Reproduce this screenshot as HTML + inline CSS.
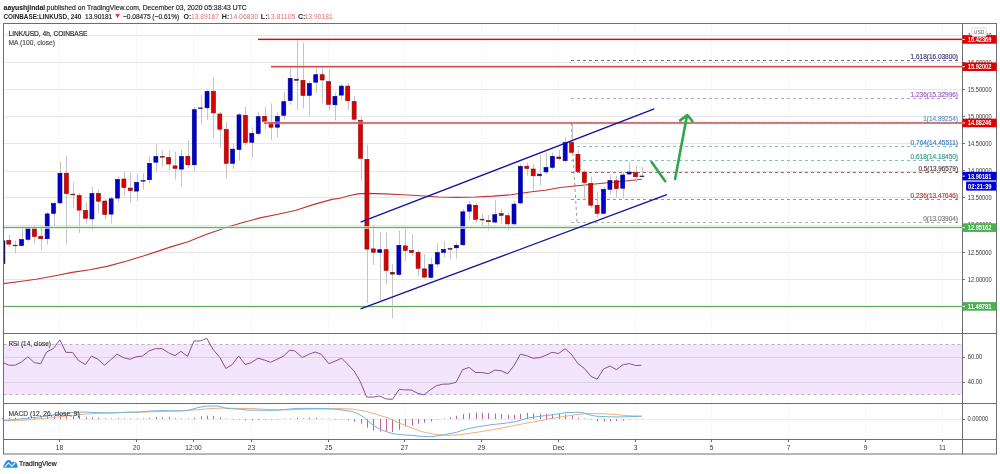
<!DOCTYPE html>
<html><head><meta charset="utf-8"><title>LINK/USD 4h chart</title>
<style>
html,body{margin:0;padding:0;background:#ffffff;}
body{width:1000px;height:474px;overflow:hidden;}
svg{display:block;font-family:"Liberation Sans",sans-serif;}
</style></head><body>
<svg width="1000" height="474" viewBox="0 0 1000 474" shape-rendering="auto">
<defs><clipPath id="mainclip"><rect x="4" y="24" width="958.5" height="309.5"/></clipPath></defs>
<rect x="0" y="0" width="1000" height="474" fill="#ffffff"/>
<line x1="3.50" y1="35.50" x2="962.50" y2="35.50" stroke="#e6e6e6" stroke-width="1" />
<line x1="3.50" y1="62.50" x2="962.50" y2="62.50" stroke="#e6e6e6" stroke-width="1" />
<line x1="3.50" y1="89.50" x2="962.50" y2="89.50" stroke="#e6e6e6" stroke-width="1" />
<line x1="3.50" y1="116.50" x2="962.50" y2="116.50" stroke="#e6e6e6" stroke-width="1" />
<line x1="3.50" y1="143.50" x2="962.50" y2="143.50" stroke="#e6e6e6" stroke-width="1" />
<line x1="3.50" y1="171.50" x2="962.50" y2="171.50" stroke="#e6e6e6" stroke-width="1" />
<line x1="3.50" y1="197.50" x2="962.50" y2="197.50" stroke="#e6e6e6" stroke-width="1" />
<line x1="3.50" y1="225.50" x2="962.50" y2="225.50" stroke="#e6e6e6" stroke-width="1" />
<line x1="3.50" y1="252.50" x2="962.50" y2="252.50" stroke="#e6e6e6" stroke-width="1" />
<line x1="3.50" y1="279.50" x2="962.50" y2="279.50" stroke="#e6e6e6" stroke-width="1" />
<line x1="3.50" y1="306.50" x2="962.50" y2="306.50" stroke="#e6e6e6" stroke-width="1" />
<line x1="59.50" y1="23.50" x2="59.50" y2="439.50" stroke="#ebebeb" stroke-width="1" stroke-dasharray="1 2"/>
<line x1="136.50" y1="23.50" x2="136.50" y2="439.50" stroke="#ebebeb" stroke-width="1" stroke-dasharray="1 2"/>
<line x1="193.50" y1="23.50" x2="193.50" y2="439.50" stroke="#ebebeb" stroke-width="1" stroke-dasharray="1 2"/>
<line x1="251.50" y1="23.50" x2="251.50" y2="439.50" stroke="#ebebeb" stroke-width="1" stroke-dasharray="1 2"/>
<line x1="328.50" y1="23.50" x2="328.50" y2="439.50" stroke="#ebebeb" stroke-width="1" stroke-dasharray="1 2"/>
<line x1="404.50" y1="23.50" x2="404.50" y2="439.50" stroke="#ebebeb" stroke-width="1" stroke-dasharray="1 2"/>
<line x1="481.50" y1="23.50" x2="481.50" y2="439.50" stroke="#ebebeb" stroke-width="1" stroke-dasharray="1 2"/>
<line x1="558.50" y1="23.50" x2="558.50" y2="439.50" stroke="#ebebeb" stroke-width="1" stroke-dasharray="1 2"/>
<line x1="635.50" y1="23.50" x2="635.50" y2="439.50" stroke="#ebebeb" stroke-width="1" stroke-dasharray="1 2"/>
<line x1="711.50" y1="23.50" x2="711.50" y2="439.50" stroke="#ebebeb" stroke-width="1" stroke-dasharray="1 2"/>
<line x1="788.50" y1="23.50" x2="788.50" y2="439.50" stroke="#ebebeb" stroke-width="1" stroke-dasharray="1 2"/>
<line x1="865.50" y1="23.50" x2="865.50" y2="439.50" stroke="#ebebeb" stroke-width="1" stroke-dasharray="1 2"/>
<line x1="942.50" y1="23.50" x2="942.50" y2="439.50" stroke="#ebebeb" stroke-width="1" stroke-dasharray="1 2"/>
<rect x="3.5" y="344.50" width="959.00" height="49.50" fill="#f3e6fc"/>
<line x1="3.50" y1="344.50" x2="962.50" y2="344.50" stroke="#bcaec4" stroke-width="1" stroke-dasharray="3 3"/>
<line x1="3.50" y1="394.50" x2="962.50" y2="394.50" stroke="#bcaec4" stroke-width="1" stroke-dasharray="3 3"/>
<line x1="3.50" y1="357.50" x2="962.50" y2="357.50" stroke="#dcd0e3" stroke-width="1" />
<line x1="3.50" y1="382.50" x2="962.50" y2="382.50" stroke="#dcd0e3" stroke-width="1" />
<line x1="3.50" y1="419.50" x2="962.50" y2="419.50" stroke="#ececec" stroke-width="1" />
<line x1="571.00" y1="60.50" x2="958.50" y2="60.50" stroke="#6a6aa0" stroke-width="1" stroke-dasharray="3 3"/>
<line x1="571.00" y1="98.50" x2="958.50" y2="98.50" stroke="#c49ae0" stroke-width="1" stroke-dasharray="3 3"/>
<line x1="571.00" y1="122.50" x2="958.50" y2="122.50" stroke="#9cc3e3" stroke-width="1" stroke-dasharray="3 3"/>
<line x1="571.00" y1="146.50" x2="958.50" y2="146.50" stroke="#8fb8d8" stroke-width="1" stroke-dasharray="3 3"/>
<line x1="571.00" y1="160.50" x2="958.50" y2="160.50" stroke="#7cc6b6" stroke-width="1" stroke-dasharray="3 3"/>
<line x1="571.00" y1="172.50" x2="958.50" y2="172.50" stroke="#9a6a6a" stroke-width="1" stroke-dasharray="3 3"/>
<line x1="571.00" y1="199.50" x2="958.50" y2="199.50" stroke="#d27a7a" stroke-width="1" stroke-dasharray="3 3"/>
<line x1="571.00" y1="222.50" x2="958.50" y2="222.50" stroke="#b0b0b0" stroke-width="1" stroke-dasharray="3 3"/>
<line x1="571.20" y1="123.00" x2="577.00" y2="222.50" stroke="#999999" stroke-width="1" stroke-dasharray="3 3"/>
<polyline fill="none" stroke="#c03333" stroke-width="1.15" points="3.6,283.6 18,281.8 36,279.2 54,276 72,272.4 90,269.7 108,266.1 126,261.2 144,255.8 162,249.9 170,247.1 188,241.7 206,234.5 224,228.2 242,222.8 260,217.9 278,214.2 296,210.2 314,204.4 332,199.4 340,198.2 349,195.7 358,193.9 367,193.4 385,193.9 403,194.7 421,195.7 439,197 457,197.4 475,197 493,196.1 511,194.8 530,192 545,190.2 560,187.5 575,186 590,184.5 605,183 620,181.5 635,180 641.8,179.2"/>
<g clip-path="url(#mainclip)">
<line x1="2.50" y1="238.00" x2="2.50" y2="266.00" stroke="#c4c4c4" stroke-width="1" />
<line x1="9.50" y1="234.70" x2="9.50" y2="247.00" stroke="#c4c4c4" stroke-width="1" />
<line x1="15.50" y1="240.60" x2="15.50" y2="253.30" stroke="#c4c4c4" stroke-width="1" />
<line x1="22.50" y1="225.90" x2="22.50" y2="246.50" stroke="#c4c4c4" stroke-width="1" />
<line x1="28.50" y1="226.00" x2="28.50" y2="241.00" stroke="#c4c4c4" stroke-width="1" />
<line x1="34.50" y1="225.40" x2="34.50" y2="243.80" stroke="#c4c4c4" stroke-width="1" />
<line x1="41.50" y1="225.40" x2="41.50" y2="250.00" stroke="#c4c4c4" stroke-width="1" />
<line x1="47.50" y1="212.00" x2="47.50" y2="244.40" stroke="#c4c4c4" stroke-width="1" />
<line x1="54.50" y1="202.00" x2="54.50" y2="226.50" stroke="#c4c4c4" stroke-width="1" />
<line x1="60.50" y1="161.50" x2="60.50" y2="204.00" stroke="#c4c4c4" stroke-width="1" />
<line x1="66.50" y1="155.70" x2="66.50" y2="244.30" stroke="#c4c4c4" stroke-width="1" />
<line x1="73.50" y1="182.50" x2="73.50" y2="208.40" stroke="#c4c4c4" stroke-width="1" />
<line x1="79.50" y1="193.00" x2="79.50" y2="233.20" stroke="#c4c4c4" stroke-width="1" />
<line x1="86.50" y1="202.00" x2="86.50" y2="223.50" stroke="#c4c4c4" stroke-width="1" />
<line x1="92.50" y1="186.80" x2="92.50" y2="229.90" stroke="#c4c4c4" stroke-width="1" />
<line x1="98.50" y1="189.40" x2="98.50" y2="213.40" stroke="#c4c4c4" stroke-width="1" />
<line x1="105.50" y1="199.00" x2="105.50" y2="219.70" stroke="#c4c4c4" stroke-width="1" />
<line x1="111.50" y1="197.00" x2="111.50" y2="223.70" stroke="#c4c4c4" stroke-width="1" />
<line x1="118.50" y1="176.40" x2="118.50" y2="202.30" stroke="#c4c4c4" stroke-width="1" />
<line x1="124.50" y1="171.90" x2="124.50" y2="196.00" stroke="#c4c4c4" stroke-width="1" />
<line x1="130.50" y1="172.70" x2="130.50" y2="202.30" stroke="#c4c4c4" stroke-width="1" />
<line x1="137.50" y1="173.70" x2="137.50" y2="201.00" stroke="#c4c4c4" stroke-width="1" />
<line x1="143.50" y1="173.20" x2="143.50" y2="189.60" stroke="#c4c4c4" stroke-width="1" />
<line x1="149.50" y1="156.00" x2="149.50" y2="183.30" stroke="#c4c4c4" stroke-width="1" />
<line x1="156.50" y1="144.80" x2="156.50" y2="171.90" stroke="#c4c4c4" stroke-width="1" />
<line x1="162.50" y1="150.40" x2="162.50" y2="166.80" stroke="#c4c4c4" stroke-width="1" />
<line x1="169.50" y1="150.40" x2="169.50" y2="170.10" stroke="#c4c4c4" stroke-width="1" />
<line x1="175.50" y1="151.60" x2="175.50" y2="179.50" stroke="#c4c4c4" stroke-width="1" />
<line x1="181.50" y1="150.00" x2="181.50" y2="186.30" stroke="#c4c4c4" stroke-width="1" />
<line x1="188.50" y1="140.30" x2="188.50" y2="168.00" stroke="#c4c4c4" stroke-width="1" />
<line x1="194.50" y1="107.00" x2="194.50" y2="171.40" stroke="#c4c4c4" stroke-width="1" />
<line x1="201.50" y1="94.70" x2="201.50" y2="124.60" stroke="#c4c4c4" stroke-width="1" />
<line x1="207.50" y1="90.00" x2="207.50" y2="120.00" stroke="#c4c4c4" stroke-width="1" />
<line x1="213.50" y1="77.70" x2="213.50" y2="138.20" stroke="#c4c4c4" stroke-width="1" />
<line x1="220.50" y1="112.00" x2="220.50" y2="148.00" stroke="#c4c4c4" stroke-width="1" />
<line x1="226.50" y1="121.70" x2="226.50" y2="178.70" stroke="#c4c4c4" stroke-width="1" />
<line x1="233.50" y1="143.20" x2="233.50" y2="169.20" stroke="#c4c4c4" stroke-width="1" />
<line x1="239.50" y1="113.00" x2="239.50" y2="160.50" stroke="#c4c4c4" stroke-width="1" />
<line x1="245.50" y1="106.70" x2="245.50" y2="145.20" stroke="#c4c4c4" stroke-width="1" />
<line x1="252.50" y1="127.30" x2="252.50" y2="157.50" stroke="#c4c4c4" stroke-width="1" />
<line x1="258.50" y1="111.50" x2="258.50" y2="135.00" stroke="#c4c4c4" stroke-width="1" />
<line x1="265.50" y1="107.20" x2="265.50" y2="129.20" stroke="#c4c4c4" stroke-width="1" />
<line x1="271.50" y1="103.40" x2="271.50" y2="140.10" stroke="#c4c4c4" stroke-width="1" />
<line x1="277.50" y1="112.30" x2="277.50" y2="137.60" stroke="#c4c4c4" stroke-width="1" />
<line x1="284.50" y1="92.00" x2="284.50" y2="119.90" stroke="#c4c4c4" stroke-width="1" />
<line x1="290.50" y1="67.50" x2="290.50" y2="104.70" stroke="#c4c4c4" stroke-width="1" />
<line x1="297.50" y1="40.10" x2="297.50" y2="109.70" stroke="#c4c4c4" stroke-width="1" />
<line x1="303.50" y1="42.70" x2="303.50" y2="108.50" stroke="#c4c4c4" stroke-width="1" />
<line x1="309.50" y1="81.00" x2="309.50" y2="116.10" stroke="#c4c4c4" stroke-width="1" />
<line x1="316.50" y1="67.60" x2="316.50" y2="93.10" stroke="#c4c4c4" stroke-width="1" />
<line x1="322.50" y1="68.10" x2="322.50" y2="103.00" stroke="#c4c4c4" stroke-width="1" />
<line x1="329.50" y1="69.60" x2="329.50" y2="110.60" stroke="#c4c4c4" stroke-width="1" />
<line x1="335.50" y1="92.90" x2="335.50" y2="120.30" stroke="#c4c4c4" stroke-width="1" />
<line x1="341.50" y1="84.00" x2="341.50" y2="100.50" stroke="#c4c4c4" stroke-width="1" />
<line x1="348.50" y1="82.80" x2="348.50" y2="110.10" stroke="#c4c4c4" stroke-width="1" />
<line x1="354.50" y1="96.00" x2="354.50" y2="120.80" stroke="#c4c4c4" stroke-width="1" />
<line x1="361.50" y1="117.00" x2="361.50" y2="180.80" stroke="#c4c4c4" stroke-width="1" />
<line x1="367.50" y1="144.70" x2="367.50" y2="303.20" stroke="#c4c4c4" stroke-width="1" />
<line x1="373.50" y1="225.00" x2="373.50" y2="265.00" stroke="#c4c4c4" stroke-width="1" />
<line x1="380.50" y1="232.60" x2="380.50" y2="300.00" stroke="#c4c4c4" stroke-width="1" />
<line x1="386.50" y1="232.60" x2="386.50" y2="284.70" stroke="#c4c4c4" stroke-width="1" />
<line x1="392.50" y1="264.00" x2="392.50" y2="318.00" stroke="#c4c4c4" stroke-width="1" />
<line x1="399.50" y1="230.60" x2="399.50" y2="276.00" stroke="#c4c4c4" stroke-width="1" />
<line x1="405.50" y1="228.30" x2="405.50" y2="261.10" stroke="#c4c4c4" stroke-width="1" />
<line x1="412.50" y1="233.80" x2="412.50" y2="255.90" stroke="#c4c4c4" stroke-width="1" />
<line x1="418.50" y1="250.00" x2="418.50" y2="276.40" stroke="#c4c4c4" stroke-width="1" />
<line x1="424.50" y1="254.40" x2="424.50" y2="278.00" stroke="#c4c4c4" stroke-width="1" />
<line x1="431.50" y1="258.00" x2="431.50" y2="278.50" stroke="#c4c4c4" stroke-width="1" />
<line x1="437.50" y1="243.20" x2="437.50" y2="267.50" stroke="#c4c4c4" stroke-width="1" />
<line x1="444.50" y1="241.10" x2="444.50" y2="257.40" stroke="#c4c4c4" stroke-width="1" />
<line x1="450.50" y1="247.50" x2="450.50" y2="259.00" stroke="#c4c4c4" stroke-width="1" />
<line x1="456.50" y1="242.20" x2="456.50" y2="258.60" stroke="#c4c4c4" stroke-width="1" />
<line x1="463.50" y1="209.00" x2="463.50" y2="246.00" stroke="#c4c4c4" stroke-width="1" />
<line x1="469.50" y1="201.00" x2="469.50" y2="219.60" stroke="#c4c4c4" stroke-width="1" />
<line x1="476.50" y1="203.00" x2="476.50" y2="223.10" stroke="#c4c4c4" stroke-width="1" />
<line x1="482.50" y1="213.80" x2="482.50" y2="225.40" stroke="#c4c4c4" stroke-width="1" />
<line x1="488.50" y1="215.00" x2="488.50" y2="230.00" stroke="#c4c4c4" stroke-width="1" />
<line x1="495.50" y1="199.90" x2="495.50" y2="223.10" stroke="#c4c4c4" stroke-width="1" />
<line x1="501.50" y1="209.20" x2="501.50" y2="223.80" stroke="#c4c4c4" stroke-width="1" />
<line x1="508.50" y1="212.60" x2="508.50" y2="230.00" stroke="#c4c4c4" stroke-width="1" />
<line x1="514.50" y1="201.00" x2="514.50" y2="225.00" stroke="#c4c4c4" stroke-width="1" />
<line x1="520.50" y1="164.00" x2="520.50" y2="204.00" stroke="#c4c4c4" stroke-width="1" />
<line x1="527.50" y1="162.90" x2="527.50" y2="175.70" stroke="#c4c4c4" stroke-width="1" />
<line x1="533.50" y1="164.10" x2="533.50" y2="190.80" stroke="#c4c4c4" stroke-width="1" />
<line x1="540.50" y1="154.80" x2="540.50" y2="185.40" stroke="#c4c4c4" stroke-width="1" />
<line x1="546.50" y1="152.50" x2="546.50" y2="174.00" stroke="#c4c4c4" stroke-width="1" />
<line x1="552.50" y1="152.50" x2="552.50" y2="169.90" stroke="#c4c4c4" stroke-width="1" />
<line x1="559.50" y1="150.20" x2="559.50" y2="160.60" stroke="#c4c4c4" stroke-width="1" />
<line x1="565.50" y1="137.40" x2="565.50" y2="162.00" stroke="#c4c4c4" stroke-width="1" />
<line x1="572.50" y1="123.00" x2="572.50" y2="153.00" stroke="#c4c4c4" stroke-width="1" />
<line x1="578.50" y1="149.80" x2="578.50" y2="173.00" stroke="#c4c4c4" stroke-width="1" />
<line x1="584.50" y1="170.00" x2="584.50" y2="199.70" stroke="#c4c4c4" stroke-width="1" />
<line x1="591.50" y1="176.50" x2="591.50" y2="207.80" stroke="#c4c4c4" stroke-width="1" />
<line x1="597.50" y1="191.60" x2="597.50" y2="218.20" stroke="#c4c4c4" stroke-width="1" />
<line x1="604.50" y1="187.00" x2="604.50" y2="214.00" stroke="#c4c4c4" stroke-width="1" />
<line x1="610.50" y1="174.50" x2="610.50" y2="194.30" stroke="#c4c4c4" stroke-width="1" />
<line x1="616.50" y1="176.00" x2="616.50" y2="197.40" stroke="#c4c4c4" stroke-width="1" />
<line x1="623.50" y1="172.00" x2="623.50" y2="198.40" stroke="#c4c4c4" stroke-width="1" />
<line x1="629.50" y1="162.30" x2="629.50" y2="175.00" stroke="#c4c4c4" stroke-width="1" />
<line x1="636.50" y1="165.60" x2="636.50" y2="182.30" stroke="#c4c4c4" stroke-width="1" />
<line x1="642.50" y1="167.10" x2="642.50" y2="177.50" stroke="#c4c4c4" stroke-width="1" />
<rect x="0.40" y="240.90" width="4.00" height="22.60" fill="#0000cc" stroke="#00007a" stroke-width="0.6"/>
<rect x="6.80" y="240.50" width="4.00" height="3.60" fill="#dd0000" stroke="#8a0000" stroke-width="0.6"/>
<rect x="13.19" y="245.20" width="4.00" height="0.60" fill="#701a1a" stroke="#701a1a" stroke-width="0.6"/>
<rect x="19.59" y="239.50" width="4.00" height="6.10" fill="#0000cc" stroke="#00007a" stroke-width="0.6"/>
<rect x="25.98" y="228.30" width="4.00" height="11.00" fill="#0000cc" stroke="#00007a" stroke-width="0.6"/>
<rect x="32.38" y="228.30" width="4.00" height="8.20" fill="#dd0000" stroke="#8a0000" stroke-width="0.6"/>
<rect x="38.77" y="236.30" width="4.00" height="2.40" fill="#dd0000" stroke="#8a0000" stroke-width="0.6"/>
<rect x="45.16" y="213.90" width="4.00" height="24.80" fill="#0000cc" stroke="#00007a" stroke-width="0.6"/>
<rect x="51.56" y="203.50" width="4.00" height="9.90" fill="#0000cc" stroke="#00007a" stroke-width="0.6"/>
<rect x="57.96" y="173.20" width="4.00" height="29.70" fill="#0000cc" stroke="#00007a" stroke-width="0.6"/>
<rect x="64.35" y="173.20" width="4.00" height="20.40" fill="#dd0000" stroke="#8a0000" stroke-width="0.6"/>
<rect x="70.75" y="194.20" width="4.00" height="0.60" fill="#701a1a" stroke="#701a1a" stroke-width="0.6"/>
<rect x="77.14" y="195.50" width="4.00" height="14.60" fill="#dd0000" stroke="#8a0000" stroke-width="0.6"/>
<rect x="83.53" y="210.40" width="4.00" height="7.80" fill="#dd0000" stroke="#8a0000" stroke-width="0.6"/>
<rect x="89.93" y="193.50" width="4.00" height="25.40" fill="#0000cc" stroke="#00007a" stroke-width="0.6"/>
<rect x="96.33" y="193.50" width="4.00" height="7.70" fill="#dd0000" stroke="#8a0000" stroke-width="0.6"/>
<rect x="102.72" y="201.10" width="4.00" height="13.30" fill="#dd0000" stroke="#8a0000" stroke-width="0.6"/>
<rect x="109.12" y="198.80" width="4.00" height="15.30" fill="#0000cc" stroke="#00007a" stroke-width="0.6"/>
<rect x="115.51" y="179.40" width="4.00" height="18.70" fill="#0000cc" stroke="#00007a" stroke-width="0.6"/>
<rect x="121.90" y="179.00" width="4.00" height="8.50" fill="#dd0000" stroke="#8a0000" stroke-width="0.6"/>
<rect x="128.30" y="188.10" width="4.00" height="2.50" fill="#dd0000" stroke="#8a0000" stroke-width="0.6"/>
<rect x="134.69" y="182.30" width="4.00" height="8.80" fill="#0000cc" stroke="#00007a" stroke-width="0.6"/>
<rect x="141.09" y="180.60" width="4.00" height="0.60" fill="#1a1a70" stroke="#1a1a70" stroke-width="0.6"/>
<rect x="147.49" y="163.30" width="4.00" height="16.40" fill="#0000cc" stroke="#00007a" stroke-width="0.6"/>
<rect x="153.88" y="156.50" width="4.00" height="5.70" fill="#0000cc" stroke="#00007a" stroke-width="0.6"/>
<rect x="160.28" y="156.50" width="4.00" height="0.70" fill="#701a1a" stroke="#701a1a" stroke-width="0.6"/>
<rect x="166.67" y="157.50" width="4.00" height="6.50" fill="#dd0000" stroke="#8a0000" stroke-width="0.6"/>
<rect x="173.06" y="165.90" width="4.00" height="2.40" fill="#dd0000" stroke="#8a0000" stroke-width="0.6"/>
<rect x="179.46" y="156.50" width="4.00" height="12.60" fill="#0000cc" stroke="#00007a" stroke-width="0.6"/>
<rect x="185.86" y="156.20" width="4.00" height="8.60" fill="#dd0000" stroke="#8a0000" stroke-width="0.6"/>
<rect x="192.25" y="109.70" width="4.00" height="55.10" fill="#0000cc" stroke="#00007a" stroke-width="0.6"/>
<rect x="198.64" y="107.90" width="4.00" height="0.70" fill="#1a1a70" stroke="#1a1a70" stroke-width="0.6"/>
<rect x="205.04" y="91.40" width="4.00" height="16.40" fill="#0000cc" stroke="#00007a" stroke-width="0.6"/>
<rect x="211.44" y="91.40" width="4.00" height="21.50" fill="#dd0000" stroke="#8a0000" stroke-width="0.6"/>
<rect x="217.83" y="114.00" width="4.00" height="15.20" fill="#dd0000" stroke="#8a0000" stroke-width="0.6"/>
<rect x="224.23" y="129.60" width="4.00" height="33.70" fill="#dd0000" stroke="#8a0000" stroke-width="0.6"/>
<rect x="230.62" y="149.10" width="4.00" height="14.20" fill="#0000cc" stroke="#00007a" stroke-width="0.6"/>
<rect x="237.01" y="114.90" width="4.00" height="34.60" fill="#0000cc" stroke="#00007a" stroke-width="0.6"/>
<rect x="243.41" y="115.30" width="4.00" height="27.10" fill="#dd0000" stroke="#8a0000" stroke-width="0.6"/>
<rect x="249.81" y="133.30" width="4.00" height="9.00" fill="#0000cc" stroke="#00007a" stroke-width="0.6"/>
<rect x="256.20" y="116.70" width="4.00" height="16.80" fill="#0000cc" stroke="#00007a" stroke-width="0.6"/>
<rect x="262.60" y="116.40" width="4.00" height="4.90" fill="#dd0000" stroke="#8a0000" stroke-width="0.6"/>
<rect x="268.99" y="122.70" width="4.00" height="4.50" fill="#dd0000" stroke="#8a0000" stroke-width="0.6"/>
<rect x="275.38" y="116.40" width="4.00" height="10.80" fill="#0000cc" stroke="#00007a" stroke-width="0.6"/>
<rect x="281.78" y="101.70" width="4.00" height="13.60" fill="#0000cc" stroke="#00007a" stroke-width="0.6"/>
<rect x="288.18" y="78.40" width="4.00" height="22.20" fill="#0000cc" stroke="#00007a" stroke-width="0.6"/>
<rect x="294.57" y="79.20" width="4.00" height="1.10" fill="#701a1a" stroke="#701a1a" stroke-width="0.6"/>
<rect x="300.96" y="80.40" width="4.00" height="15.10" fill="#dd0000" stroke="#8a0000" stroke-width="0.6"/>
<rect x="307.36" y="83.50" width="4.00" height="11.80" fill="#0000cc" stroke="#00007a" stroke-width="0.6"/>
<rect x="313.75" y="74.70" width="4.00" height="7.50" fill="#0000cc" stroke="#00007a" stroke-width="0.6"/>
<rect x="320.15" y="74.70" width="4.00" height="5.30" fill="#dd0000" stroke="#8a0000" stroke-width="0.6"/>
<rect x="326.55" y="81.60" width="4.00" height="22.70" fill="#dd0000" stroke="#8a0000" stroke-width="0.6"/>
<rect x="332.94" y="96.30" width="4.00" height="8.50" fill="#0000cc" stroke="#00007a" stroke-width="0.6"/>
<rect x="339.33" y="86.10" width="4.00" height="9.00" fill="#0000cc" stroke="#00007a" stroke-width="0.6"/>
<rect x="345.73" y="86.10" width="4.00" height="14.60" fill="#dd0000" stroke="#8a0000" stroke-width="0.6"/>
<rect x="352.12" y="101.60" width="4.00" height="17.60" fill="#dd0000" stroke="#8a0000" stroke-width="0.6"/>
<rect x="358.52" y="120.30" width="4.00" height="38.00" fill="#dd0000" stroke="#8a0000" stroke-width="0.6"/>
<rect x="364.92" y="159.30" width="4.00" height="89.80" fill="#dd0000" stroke="#8a0000" stroke-width="0.6"/>
<rect x="371.31" y="248.90" width="4.00" height="3.30" fill="#dd0000" stroke="#8a0000" stroke-width="0.6"/>
<rect x="377.70" y="249.70" width="4.00" height="2.70" fill="#0000cc" stroke="#00007a" stroke-width="0.6"/>
<rect x="384.10" y="249.70" width="4.00" height="20.70" fill="#dd0000" stroke="#8a0000" stroke-width="0.6"/>
<rect x="390.50" y="272.30" width="4.00" height="1.80" fill="#701a1a" stroke="#701a1a" stroke-width="0.6"/>
<rect x="396.89" y="245.30" width="4.00" height="29.10" fill="#0000cc" stroke="#00007a" stroke-width="0.6"/>
<rect x="403.28" y="245.90" width="4.00" height="4.40" fill="#dd0000" stroke="#8a0000" stroke-width="0.6"/>
<rect x="409.68" y="250.50" width="4.00" height="1.90" fill="#dd0000" stroke="#8a0000" stroke-width="0.6"/>
<rect x="416.07" y="252.40" width="4.00" height="15.90" fill="#dd0000" stroke="#8a0000" stroke-width="0.6"/>
<rect x="422.47" y="268.90" width="4.00" height="8.20" fill="#dd0000" stroke="#8a0000" stroke-width="0.6"/>
<rect x="428.87" y="264.60" width="4.00" height="12.70" fill="#0000cc" stroke="#00007a" stroke-width="0.6"/>
<rect x="435.26" y="252.60" width="4.00" height="11.40" fill="#0000cc" stroke="#00007a" stroke-width="0.6"/>
<rect x="441.65" y="249.50" width="4.00" height="2.90" fill="#0000cc" stroke="#00007a" stroke-width="0.6"/>
<rect x="448.05" y="248.40" width="4.00" height="0.80" fill="#701a1a" stroke="#701a1a" stroke-width="0.6"/>
<rect x="454.44" y="245.30" width="4.00" height="2.50" fill="#0000cc" stroke="#00007a" stroke-width="0.6"/>
<rect x="460.84" y="211.80" width="4.00" height="33.00" fill="#0000cc" stroke="#00007a" stroke-width="0.6"/>
<rect x="467.24" y="204.80" width="4.00" height="6.40" fill="#0000cc" stroke="#00007a" stroke-width="0.6"/>
<rect x="473.63" y="205.30" width="4.00" height="14.00" fill="#dd0000" stroke="#8a0000" stroke-width="0.6"/>
<rect x="480.02" y="219.20" width="4.00" height="0.80" fill="#701a1a" stroke="#701a1a" stroke-width="0.6"/>
<rect x="486.42" y="220.60" width="4.00" height="1.10" fill="#701a1a" stroke="#701a1a" stroke-width="0.6"/>
<rect x="492.81" y="214.60" width="4.00" height="7.50" fill="#0000cc" stroke="#00007a" stroke-width="0.6"/>
<rect x="499.21" y="213.60" width="4.00" height="1.80" fill="#701a1a" stroke="#701a1a" stroke-width="0.6"/>
<rect x="505.61" y="215.70" width="4.00" height="8.20" fill="#dd0000" stroke="#8a0000" stroke-width="0.6"/>
<rect x="512.00" y="204.10" width="4.00" height="19.80" fill="#0000cc" stroke="#00007a" stroke-width="0.6"/>
<rect x="518.39" y="166.30" width="4.00" height="36.70" fill="#0000cc" stroke="#00007a" stroke-width="0.6"/>
<rect x="524.79" y="166.20" width="4.00" height="2.20" fill="#dd0000" stroke="#8a0000" stroke-width="0.6"/>
<rect x="531.18" y="169.00" width="4.00" height="6.80" fill="#dd0000" stroke="#8a0000" stroke-width="0.6"/>
<rect x="537.58" y="174.10" width="4.00" height="1.70" fill="#1a1a70" stroke="#1a1a70" stroke-width="0.6"/>
<rect x="543.98" y="167.40" width="4.00" height="4.50" fill="#0000cc" stroke="#00007a" stroke-width="0.6"/>
<rect x="550.37" y="156.30" width="4.00" height="11.00" fill="#0000cc" stroke="#00007a" stroke-width="0.6"/>
<rect x="556.76" y="157.00" width="4.00" height="1.70" fill="#701a1a" stroke="#701a1a" stroke-width="0.6"/>
<rect x="563.16" y="142.50" width="4.00" height="18.20" fill="#0000cc" stroke="#00007a" stroke-width="0.6"/>
<rect x="569.55" y="142.50" width="4.00" height="9.80" fill="#dd0000" stroke="#8a0000" stroke-width="0.6"/>
<rect x="575.95" y="154.30" width="4.00" height="17.20" fill="#dd0000" stroke="#8a0000" stroke-width="0.6"/>
<rect x="582.35" y="172.10" width="4.00" height="10.30" fill="#dd0000" stroke="#8a0000" stroke-width="0.6"/>
<rect x="588.74" y="183.30" width="4.00" height="21.90" fill="#dd0000" stroke="#8a0000" stroke-width="0.6"/>
<rect x="595.13" y="205.30" width="4.00" height="8.00" fill="#dd0000" stroke="#8a0000" stroke-width="0.6"/>
<rect x="601.53" y="189.30" width="4.00" height="24.00" fill="#0000cc" stroke="#00007a" stroke-width="0.6"/>
<rect x="607.92" y="180.50" width="4.00" height="8.80" fill="#0000cc" stroke="#00007a" stroke-width="0.6"/>
<rect x="614.32" y="180.70" width="4.00" height="7.90" fill="#dd0000" stroke="#8a0000" stroke-width="0.6"/>
<rect x="620.72" y="175.00" width="4.00" height="13.20" fill="#0000cc" stroke="#00007a" stroke-width="0.6"/>
<rect x="627.11" y="172.10" width="4.00" height="1.90" fill="#0000cc" stroke="#00007a" stroke-width="0.6"/>
<rect x="633.50" y="172.70" width="4.00" height="4.00" fill="#dd0000" stroke="#8a0000" stroke-width="0.6"/>
<rect x="639.90" y="176.00" width="4.00" height="0.60" fill="#111133" stroke="#111133" stroke-width="0.6"/>
</g>
<rect x="4.00" y="240.50" width="1.20" height="23.30" fill="#101060" />
<line x1="258.00" y1="39.44" x2="962.50" y2="39.44" stroke="#ffcccc" stroke-width="2.8" stroke-opacity="0.7"/>
<line x1="258.00" y1="39.44" x2="962.50" y2="39.44" stroke="#b01a1e" stroke-width="1.15" />
<line x1="271.00" y1="66.73" x2="962.50" y2="66.73" stroke="#ffcccc" stroke-width="2.8" stroke-opacity="0.7"/>
<line x1="271.00" y1="66.73" x2="962.50" y2="66.73" stroke="#b01a1e" stroke-width="1.15" />
<line x1="264.00" y1="122.97" x2="962.50" y2="122.97" stroke="#ffcccc" stroke-width="2.8" stroke-opacity="0.7"/>
<line x1="264.00" y1="122.97" x2="962.50" y2="122.97" stroke="#b01a1e" stroke-width="1.15" />
<line x1="3.50" y1="227.50" x2="962.50" y2="227.50" stroke="#d8f2d8" stroke-width="2.8" stroke-opacity="0.7"/>
<line x1="3.50" y1="227.50" x2="962.50" y2="227.50" stroke="#62ad62" stroke-width="1.0" />
<line x1="3.50" y1="306.50" x2="962.50" y2="306.50" stroke="#d8f2d8" stroke-width="2.8" stroke-opacity="0.7"/>
<line x1="3.50" y1="306.50" x2="962.50" y2="306.50" stroke="#62ad62" stroke-width="1.0" />
<line x1="360.60" y1="222.10" x2="654.20" y2="108.90" stroke="#12129e" stroke-width="1.35" />
<line x1="360.60" y1="308.90" x2="666.80" y2="194.60" stroke="#12129e" stroke-width="1.35" />
<g stroke="#2fa64c" stroke-width="2.6" fill="none" stroke-linecap="round" stroke-linejoin="round">
<line x1="651.6" y1="162" x2="665.2" y2="181.2"/>
<line x1="675.1" y1="178.9" x2="686.9" y2="116"/>
<polyline points="680.2,120.4 687.3,115.0 692.4,121.2"/>
</g>
<polyline fill="none" stroke="#8a4f94" stroke-width="1" points="4,363 8.8,365.2 15.4,365.2 21.6,361.9 27.9,356.8 34.3,362.6 40.7,363.7 46.6,352 53.2,348.7 59.8,339.9 66,352.4 72.6,352.4 78.8,360.8 85.4,364.5 91.5,356 97.9,359.3 104.5,365.2 110.7,359.7 117,354.2 123.2,357.5 129.8,359.3 136,356.8 142.6,356 149,350.9 155.3,348.7 162.2,348.7 168.3,352.7 175,355.7 181,351.3 187.5,356.4 194,341 200.2,341 206.8,338.4 213,349.4 219.9,357.5 225.8,368.5 232,364.8 238.6,356 245.2,364.5 251.4,362.6 258,358.2 264.6,360.1 270.5,362.3 277.1,359.3 283.7,356 289.6,350.2 294.7,350.9 302.4,357.5 309,354.2 315.2,352 321.1,354.2 328.8,363.7 335,361.2 341.6,358.2 347.5,364.1 354.1,371.1 360.3,381.7 366.7,397.1 373.3,397.1 379.4,396 386,398.9 392.6,399.3 399.2,389.4 404.7,389.8 411.3,390 417.9,393.4 423.9,394.9 430.1,390 436.3,385.7 442.8,384.2 449.3,384 456,382.3 462.7,369.6 469.2,367.4 475.7,372.5 481.9,372.5 488.4,373.7 494.9,370.1 501.1,370.8 507.6,373.7 514.1,365.5 520.3,354.2 526.8,355.7 533.3,358.3 540,357.6 546,355.2 552,352.3 558.7,353.5 565,348.7 571.2,354 577.9,363.6 584.4,368.4 590.9,376.3 597.1,379.2 603.6,368.9 610.1,366 616.3,369.6 622.8,364.8 629.3,363.6 635.5,365.5 641.3,365.3"/>
<g stroke="#c0609a" stroke-width="1">
<line x1="2.5" y1="419.0" x2="2.5" y2="418.0"/>
<line x1="9.5" y1="419.0" x2="9.5" y2="417.8"/>
<line x1="15.5" y1="419.0" x2="15.5" y2="417.8"/>
<line x1="22.5" y1="419.0" x2="22.5" y2="417.6"/>
<line x1="28.5" y1="419.0" x2="28.5" y2="417.2"/>
<line x1="34.5" y1="419.0" x2="34.5" y2="417.2"/>
<line x1="41.5" y1="419.0" x2="41.5" y2="416.6"/>
<line x1="47.5" y1="419.0" x2="47.5" y2="416.0"/>
<line x1="54.5" y1="419.0" x2="54.5" y2="416.0"/>
<line x1="60.5" y1="419.0" x2="60.5" y2="415.4"/>
<line x1="66.5" y1="419.0" x2="66.5" y2="415.2"/>
<line x1="73.5" y1="419.0" x2="73.5" y2="415.4"/>
<line x1="79.5" y1="419.0" x2="79.5" y2="416.0"/>
<line x1="86.5" y1="419.0" x2="86.5" y2="417.2"/>
<line x1="92.5" y1="419.0" x2="92.5" y2="417.2"/>
<line x1="98.5" y1="419.0" x2="98.5" y2="417.8"/>
<line x1="105.5" y1="419.0" x2="105.5" y2="418.4"/>
<line x1="111.5" y1="419.0" x2="111.5" y2="418.4"/>
<line x1="118.5" y1="419.0" x2="118.5" y2="418.2"/>
<line x1="124.5" y1="419.0" x2="124.5" y2="418.4"/>
<line x1="130.5" y1="419.0" x2="130.5" y2="418.4"/>
<line x1="137.5" y1="419.0" x2="137.5" y2="418.4"/>
<line x1="143.5" y1="419.0" x2="143.5" y2="418.4"/>
<line x1="149.5" y1="419.0" x2="149.5" y2="418.0"/>
<line x1="156.5" y1="419.0" x2="156.5" y2="417.0"/>
<line x1="162.5" y1="419.0" x2="162.5" y2="417.2"/>
<line x1="169.5" y1="419.0" x2="169.5" y2="417.2"/>
<line x1="175.5" y1="419.0" x2="175.5" y2="418.2"/>
<line x1="181.5" y1="419.0" x2="181.5" y2="418.4"/>
<line x1="188.5" y1="419.0" x2="188.5" y2="418.4"/>
<line x1="194.5" y1="419.0" x2="194.5" y2="417.8"/>
<line x1="201.5" y1="419.0" x2="201.5" y2="416.4"/>
<line x1="207.5" y1="419.0" x2="207.5" y2="415.6"/>
<line x1="213.5" y1="419.0" x2="213.5" y2="415.8"/>
<line x1="220.5" y1="419.0" x2="220.5" y2="417.2"/>
<line x1="226.5" y1="419.0" x2="226.5" y2="418.5"/>
<line x1="233.5" y1="419.0" x2="233.5" y2="419.8"/>
<line x1="239.5" y1="419.0" x2="239.5" y2="419.5"/>
<line x1="245.5" y1="419.0" x2="245.5" y2="420.2"/>
<line x1="252.5" y1="419.0" x2="252.5" y2="420.2"/>
<line x1="258.5" y1="419.0" x2="258.5" y2="420.0"/>
<line x1="265.5" y1="419.0" x2="265.5" y2="419.8"/>
<line x1="271.5" y1="419.0" x2="271.5" y2="419.6"/>
<line x1="277.5" y1="419.0" x2="277.5" y2="419.5"/>
<line x1="284.5" y1="419.0" x2="284.5" y2="418.5"/>
<line x1="290.5" y1="419.0" x2="290.5" y2="418.4"/>
<line x1="297.5" y1="419.0" x2="297.5" y2="417.8"/>
<line x1="303.5" y1="419.0" x2="303.5" y2="418.4"/>
<line x1="309.5" y1="419.0" x2="309.5" y2="417.8"/>
<line x1="316.5" y1="419.0" x2="316.5" y2="417.8"/>
<line x1="322.5" y1="419.0" x2="322.5" y2="418.5"/>
<line x1="329.5" y1="419.0" x2="329.5" y2="418.5"/>
<line x1="335.5" y1="419.0" x2="335.5" y2="419.5"/>
<line x1="341.5" y1="419.0" x2="341.5" y2="419.5"/>
<line x1="348.5" y1="419.0" x2="348.5" y2="420.2"/>
<line x1="354.5" y1="419.0" x2="354.5" y2="421.8"/>
<line x1="361.5" y1="419.0" x2="361.5" y2="423.8"/>
<line x1="367.5" y1="419.0" x2="367.5" y2="427.8"/>
<line x1="373.5" y1="419.0" x2="373.5" y2="430.6"/>
<line x1="380.5" y1="419.0" x2="380.5" y2="431.6"/>
<line x1="386.5" y1="419.0" x2="386.5" y2="431.6"/>
<line x1="392.5" y1="419.0" x2="392.5" y2="432.2"/>
<line x1="399.5" y1="419.0" x2="399.5" y2="429.8"/>
<line x1="405.5" y1="419.0" x2="405.5" y2="426.6"/>
<line x1="412.5" y1="419.0" x2="412.5" y2="425.7"/>
<line x1="418.5" y1="419.0" x2="418.5" y2="423.8"/>
<line x1="424.5" y1="419.0" x2="424.5" y2="422.7"/>
<line x1="431.5" y1="419.0" x2="431.5" y2="421.5"/>
<line x1="437.5" y1="419.0" x2="437.5" y2="419.5"/>
<line x1="444.5" y1="419.0" x2="444.5" y2="418.4"/>
<line x1="450.5" y1="419.0" x2="450.5" y2="417.2"/>
<line x1="456.5" y1="419.0" x2="456.5" y2="415.8"/>
<line x1="463.5" y1="419.0" x2="463.5" y2="414.2"/>
<line x1="469.5" y1="419.0" x2="469.5" y2="413.0"/>
<line x1="476.5" y1="419.0" x2="476.5" y2="412.6"/>
<line x1="482.5" y1="419.0" x2="482.5" y2="412.6"/>
<line x1="488.5" y1="419.0" x2="488.5" y2="413.0"/>
<line x1="495.5" y1="419.0" x2="495.5" y2="413.6"/>
<line x1="501.5" y1="419.0" x2="501.5" y2="414.0"/>
<line x1="508.5" y1="419.0" x2="508.5" y2="414.8"/>
<line x1="514.5" y1="419.0" x2="514.5" y2="414.8"/>
<line x1="520.5" y1="419.0" x2="520.5" y2="413.8"/>
<line x1="527.5" y1="419.0" x2="527.5" y2="413.0"/>
<line x1="533.5" y1="419.0" x2="533.5" y2="413.4"/>
<line x1="540.5" y1="419.0" x2="540.5" y2="413.8"/>
<line x1="546.5" y1="419.0" x2="546.5" y2="413.8"/>
<line x1="552.5" y1="419.0" x2="552.5" y2="414.2"/>
<line x1="559.5" y1="419.0" x2="559.5" y2="414.0"/>
<line x1="565.5" y1="419.0" x2="565.5" y2="414.4"/>
<line x1="572.5" y1="419.0" x2="572.5" y2="415.6"/>
<line x1="578.5" y1="419.0" x2="578.5" y2="417.8"/>
<line x1="584.5" y1="419.0" x2="584.5" y2="418.5"/>
<line x1="591.5" y1="419.0" x2="591.5" y2="419.6"/>
<line x1="597.5" y1="419.0" x2="597.5" y2="421.5"/>
<line x1="604.5" y1="419.0" x2="604.5" y2="421.5"/>
<line x1="610.5" y1="419.0" x2="610.5" y2="421.5"/>
<line x1="616.5" y1="419.0" x2="616.5" y2="421.2"/>
<line x1="623.5" y1="419.0" x2="623.5" y2="420.5"/>
<line x1="629.5" y1="419.0" x2="629.5" y2="419.5"/>
<line x1="636.5" y1="419.0" x2="636.5" y2="418.5"/>
<line x1="642.5" y1="419.0" x2="642.5" y2="418.5"/>
</g>
<polyline fill="none" stroke="#f0b07a" stroke-width="1" points="4,420.6 24,420.2 36,419.2 48,418 60,416.8 72,415.4 84,414.2 96,413.4 108,413 120,412.5 139,412.2 163,411.4 187,410.6 199,409.6 211,408.6 223,408 235,408.4 254,408.6 266,409.4 278,409.8 290,409.8 302,409.4 314,409 326,409 338,408.6 352,409 364,411 376,414.2 388,418 400,423.4 412,428.2 424,432.2 436,434.6 448,435.3 456,435 468,433.6 480,431.8 492,429.8 504,427.6 516,425.2 528,422.8 542,420.4 554,418 566,416.2 578,414.4 590,413.4 602,413.8 614,414.4 626,415.6 641.6,416.2"/>
<polyline fill="none" stroke="#6fb4e2" stroke-width="1" points="4,420.4 12,419.8 24,418.6 36,417.4 48,415.8 60,414.2 72,412.6 84,412 96,412.6 108,413 120,412.6 127,412.2 139,412 151,411 163,410.6 175,411 187,410.6 193,409 199,407.4 205,406.2 211,406 219.4,406.2 225.4,408.2 230,408.6 242,409.4 248,410.2 266,410.2 278,410.2 290,409 296,408.4 314,408.4 326,408.6 338,409.4 346,410.6 352,411.4 358,413.8 364,417.4 370,422.8 376,427 382,430 388,432.2 394,433.9 400,434.6 412,435.4 424,436.6 432,436.6 438,435.8 444,434.8 456,432.4 468,428.8 480,426.4 492,424.6 504,423.4 516,421.6 528,418 542,416 554,414.6 566,412.6 578,412.2 584,413 590,415 596,416.2 608,416.8 620,417 632,416.6 641.6,416.2"/>
<rect x="3.5" y="23.5" width="993.0" height="430.5" fill="none" stroke="#6e6e6e" stroke-width="1"/>
<line x1="962.50" y1="23.50" x2="962.50" y2="454.00" stroke="#6e6e6e" stroke-width="1" />
<line x1="3.50" y1="333.50" x2="996.50" y2="333.50" stroke="#6e6e6e" stroke-width="1" />
<line x1="3.50" y1="403.50" x2="996.50" y2="403.50" stroke="#6e6e6e" stroke-width="1" />
<line x1="3.50" y1="439.50" x2="996.50" y2="439.50" stroke="#6e6e6e" stroke-width="1" />
<line x1="59.50" y1="439.50" x2="59.50" y2="442.00" stroke="#6e6e6e" stroke-width="1" />
<text x="59.50" y="450.00" font-size="6.6" fill="#333" text-anchor="middle" font-weight="normal" >18</text>
<line x1="136.50" y1="439.50" x2="136.50" y2="442.00" stroke="#6e6e6e" stroke-width="1" />
<text x="136.50" y="450.00" font-size="6.6" fill="#333" text-anchor="middle" font-weight="normal" >20</text>
<line x1="193.50" y1="439.50" x2="193.50" y2="442.00" stroke="#6e6e6e" stroke-width="1" />
<text x="193.50" y="450.00" font-size="6.6" fill="#333" text-anchor="middle" font-weight="normal" >12:00</text>
<line x1="251.50" y1="439.50" x2="251.50" y2="442.00" stroke="#6e6e6e" stroke-width="1" />
<text x="251.50" y="450.00" font-size="6.6" fill="#333" text-anchor="middle" font-weight="normal" >23</text>
<line x1="328.50" y1="439.50" x2="328.50" y2="442.00" stroke="#6e6e6e" stroke-width="1" />
<text x="328.50" y="450.00" font-size="6.6" fill="#333" text-anchor="middle" font-weight="normal" >25</text>
<line x1="404.50" y1="439.50" x2="404.50" y2="442.00" stroke="#6e6e6e" stroke-width="1" />
<text x="404.50" y="450.00" font-size="6.6" fill="#333" text-anchor="middle" font-weight="normal" >27</text>
<line x1="481.50" y1="439.50" x2="481.50" y2="442.00" stroke="#6e6e6e" stroke-width="1" />
<text x="481.50" y="450.00" font-size="6.6" fill="#333" text-anchor="middle" font-weight="normal" >29</text>
<line x1="558.50" y1="439.50" x2="558.50" y2="442.00" stroke="#6e6e6e" stroke-width="1" />
<text x="558.50" y="450.00" font-size="6.6" fill="#333" text-anchor="middle" font-weight="normal" >Dec</text>
<line x1="635.50" y1="439.50" x2="635.50" y2="442.00" stroke="#6e6e6e" stroke-width="1" />
<text x="635.50" y="450.00" font-size="6.6" fill="#333" text-anchor="middle" font-weight="normal" >3</text>
<line x1="711.50" y1="439.50" x2="711.50" y2="442.00" stroke="#6e6e6e" stroke-width="1" />
<text x="711.50" y="450.00" font-size="6.6" fill="#333" text-anchor="middle" font-weight="normal" >5</text>
<line x1="788.50" y1="439.50" x2="788.50" y2="442.00" stroke="#6e6e6e" stroke-width="1" />
<text x="788.50" y="450.00" font-size="6.6" fill="#333" text-anchor="middle" font-weight="normal" >7</text>
<line x1="865.50" y1="439.50" x2="865.50" y2="442.00" stroke="#6e6e6e" stroke-width="1" />
<text x="865.50" y="450.00" font-size="6.6" fill="#333" text-anchor="middle" font-weight="normal" >9</text>
<line x1="942.50" y1="439.50" x2="942.50" y2="442.00" stroke="#6e6e6e" stroke-width="1" />
<text x="942.50" y="450.00" font-size="6.6" fill="#333" text-anchor="middle" font-weight="normal" >11</text>
<line x1="962.50" y1="35.50" x2="965.00" y2="35.50" stroke="#6e6e6e" stroke-width="1" />
<text x="967.80" y="37.70" font-size="6.8" fill="#333" text-anchor="start" font-weight="normal" textLength="23.80" lengthAdjust="spacingAndGlyphs" >16.50000</text>
<line x1="962.50" y1="62.50" x2="965.00" y2="62.50" stroke="#6e6e6e" stroke-width="1" />
<text x="967.80" y="64.80" font-size="6.8" fill="#333" text-anchor="start" font-weight="normal" textLength="23.80" lengthAdjust="spacingAndGlyphs" >16.00000</text>
<line x1="962.50" y1="89.50" x2="965.00" y2="89.50" stroke="#6e6e6e" stroke-width="1" />
<text x="967.80" y="91.90" font-size="6.8" fill="#333" text-anchor="start" font-weight="normal" textLength="23.80" lengthAdjust="spacingAndGlyphs" >15.50000</text>
<line x1="962.50" y1="116.50" x2="965.00" y2="116.50" stroke="#6e6e6e" stroke-width="1" />
<text x="967.80" y="119.00" font-size="6.8" fill="#333" text-anchor="start" font-weight="normal" textLength="23.80" lengthAdjust="spacingAndGlyphs" >15.00000</text>
<line x1="962.50" y1="143.50" x2="965.00" y2="143.50" stroke="#6e6e6e" stroke-width="1" />
<text x="967.80" y="146.10" font-size="6.8" fill="#333" text-anchor="start" font-weight="normal" textLength="23.80" lengthAdjust="spacingAndGlyphs" >14.50000</text>
<line x1="962.50" y1="170.50" x2="965.00" y2="170.50" stroke="#6e6e6e" stroke-width="1" />
<text x="967.80" y="173.20" font-size="6.8" fill="#333" text-anchor="start" font-weight="normal" textLength="23.80" lengthAdjust="spacingAndGlyphs" >14.00000</text>
<line x1="962.50" y1="197.50" x2="965.00" y2="197.50" stroke="#6e6e6e" stroke-width="1" />
<text x="967.80" y="200.30" font-size="6.8" fill="#333" text-anchor="start" font-weight="normal" textLength="23.80" lengthAdjust="spacingAndGlyphs" >13.50000</text>
<line x1="962.50" y1="225.50" x2="965.00" y2="225.50" stroke="#6e6e6e" stroke-width="1" />
<text x="967.80" y="227.40" font-size="6.8" fill="#333" text-anchor="start" font-weight="normal" textLength="23.80" lengthAdjust="spacingAndGlyphs" >13.00000</text>
<line x1="962.50" y1="252.50" x2="965.00" y2="252.50" stroke="#6e6e6e" stroke-width="1" />
<text x="967.80" y="254.50" font-size="6.8" fill="#333" text-anchor="start" font-weight="normal" textLength="23.80" lengthAdjust="spacingAndGlyphs" >12.50000</text>
<line x1="962.50" y1="279.50" x2="965.00" y2="279.50" stroke="#6e6e6e" stroke-width="1" />
<text x="967.80" y="281.60" font-size="6.8" fill="#333" text-anchor="start" font-weight="normal" textLength="23.80" lengthAdjust="spacingAndGlyphs" >12.00000</text>
<line x1="962.50" y1="306.50" x2="965.00" y2="306.50" stroke="#6e6e6e" stroke-width="1" />
<text x="967.80" y="308.70" font-size="6.8" fill="#333" text-anchor="start" font-weight="normal" textLength="23.80" lengthAdjust="spacingAndGlyphs" >11.50000</text>
<line x1="962.50" y1="357.50" x2="965.00" y2="357.50" stroke="#6e6e6e" stroke-width="1" />
<text x="967.80" y="359.27" font-size="6.8" fill="#333" text-anchor="start" font-weight="normal" textLength="14.50" lengthAdjust="spacingAndGlyphs" >60.00</text>
<line x1="962.50" y1="382.50" x2="965.00" y2="382.50" stroke="#6e6e6e" stroke-width="1" />
<text x="967.80" y="384.02" font-size="6.8" fill="#333" text-anchor="start" font-weight="normal" textLength="14.50" lengthAdjust="spacingAndGlyphs" >40.00</text>
<line x1="962.50" y1="419.50" x2="965.00" y2="419.50" stroke="#6e6e6e" stroke-width="1" />
<text x="967.40" y="421.20" font-size="6.8" fill="#333" text-anchor="start" font-weight="normal" textLength="20.80" lengthAdjust="spacingAndGlyphs" >0.00000</text>
<rect x="962.5" y="35.14" width="34.0" height="8.6" fill="#e00000"/>
<line x1="962.50" y1="39.44" x2="965.00" y2="39.44" stroke="#ffffff" stroke-width="1" />
<text x="967.80" y="41.84" font-size="6.8" fill="#ffffff" text-anchor="start" font-weight="bold" textLength="23.60" lengthAdjust="spacingAndGlyphs" >16.42369</text>
<rect x="962.5" y="62.43" width="34.0" height="8.6" fill="#e00000"/>
<line x1="962.50" y1="66.73" x2="965.00" y2="66.73" stroke="#ffffff" stroke-width="1" />
<text x="967.80" y="69.13" font-size="6.8" fill="#ffffff" text-anchor="start" font-weight="bold" textLength="23.60" lengthAdjust="spacingAndGlyphs" >15.92002</text>
<rect x="962.5" y="118.67" width="34.0" height="8.6" fill="#e00000"/>
<line x1="962.50" y1="122.97" x2="965.00" y2="122.97" stroke="#ffffff" stroke-width="1" />
<text x="967.80" y="125.37" font-size="6.8" fill="#ffffff" text-anchor="start" font-weight="bold" textLength="23.60" lengthAdjust="spacingAndGlyphs" >14.88246</text>
<rect x="962.5" y="223.32" width="34.0" height="8.6" fill="#4caf50"/>
<line x1="962.50" y1="227.62" x2="965.00" y2="227.62" stroke="#ffffff" stroke-width="1" />
<text x="967.80" y="230.02" font-size="6.8" fill="#ffffff" text-anchor="start" font-weight="bold" textLength="23.60" lengthAdjust="spacingAndGlyphs" >12.95162</text>
<rect x="962.5" y="302.12" width="34.0" height="8.6" fill="#4caf50"/>
<line x1="962.50" y1="306.42" x2="965.00" y2="306.42" stroke="#ffffff" stroke-width="1" />
<text x="967.80" y="308.82" font-size="6.8" fill="#ffffff" text-anchor="start" font-weight="bold" textLength="23.60" lengthAdjust="spacingAndGlyphs" >11.49781</text>
<rect x="962.5" y="171.82" width="34.0" height="8.6" fill="#0000dd"/>
<line x1="962.50" y1="176.12" x2="965.00" y2="176.12" stroke="#ffffff" stroke-width="1" />
<text x="967.80" y="178.52" font-size="6.8" fill="#ffffff" text-anchor="start" font-weight="bold" textLength="23.60" lengthAdjust="spacingAndGlyphs" >13.90181</text>
<rect x="966.1" y="181.6" width="30" height="9" fill="#0000dd"/>
<text x="967.90" y="188.50" font-size="6.8" fill="#ffffff" text-anchor="start" font-weight="bold" textLength="23.60" lengthAdjust="spacingAndGlyphs" >02:21:39</text>
<rect x="971.6" y="27.9" width="15" height="8.7" rx="2" fill="#ffffff" stroke="#d0d0d0" stroke-width="0.8"/>
<text x="979.10" y="34.40" font-size="6.2" fill="#555" text-anchor="middle" font-weight="normal" textLength="10.50" lengthAdjust="spacingAndGlyphs" >USD</text>
<text x="958.00" y="58.74" font-size="7.6" fill="#3a3a7a" text-anchor="end" font-weight="normal" textLength="47.40" lengthAdjust="spacingAndGlyphs" stroke="#3a3a7a" stroke-width="0.18" >1.618(16.03800)</text>
<text x="958.00" y="97.12" font-size="7.6" fill="#9a5fc4" text-anchor="end" font-weight="normal" textLength="47.40" lengthAdjust="spacingAndGlyphs" stroke="#9a5fc4" stroke-width="0.18" >1.236(15.32996)</text>
<text x="958.00" y="120.82" font-size="7.6" fill="#5a96c8" text-anchor="end" font-weight="normal" textLength="34.80" lengthAdjust="spacingAndGlyphs" stroke="#5a96c8" stroke-width="0.18" >1(14.89254)</text>
<text x="958.00" y="144.53" font-size="7.6" fill="#3f80b8" text-anchor="end" font-weight="normal" textLength="47.40" lengthAdjust="spacingAndGlyphs" stroke="#3f80b8" stroke-width="0.18" >0.764(14.45511)</text>
<text x="958.00" y="159.20" font-size="7.6" fill="#2f9a84" text-anchor="end" font-weight="normal" textLength="47.40" lengthAdjust="spacingAndGlyphs" stroke="#2f9a84" stroke-width="0.18" >0.618(14.18450)</text>
<text x="958.00" y="171.05" font-size="7.6" fill="#4a3a3a" text-anchor="end" font-weight="normal" textLength="39.50" lengthAdjust="spacingAndGlyphs" stroke="#4a3a3a" stroke-width="0.18" >0.5(13.96579)</text>
<text x="958.00" y="197.58" font-size="7.6" fill="#b83838" text-anchor="end" font-weight="normal" textLength="47.40" lengthAdjust="spacingAndGlyphs" stroke="#b83838" stroke-width="0.18" >0.236(13.47646)</text>
<text x="958.00" y="221.28" font-size="7.6" fill="#7a7a7a" text-anchor="end" font-weight="normal" textLength="34.80" lengthAdjust="spacingAndGlyphs" stroke="#7a7a7a" stroke-width="0.18" >0(13.03904)</text>
<text x="8.50" y="35.50" font-size="7.0" fill="#222" text-anchor="start" font-weight="normal" textLength="79.00" lengthAdjust="spacingAndGlyphs" stroke="#222" stroke-width="0.15" >LINK/USD, 4h, COINBASE</text>
<text x="8.50" y="44.80" font-size="7.0" fill="#444" text-anchor="start" font-weight="normal" textLength="46.50" lengthAdjust="spacingAndGlyphs" stroke="#444" stroke-width="0.12" >MA (100, close)</text>
<text x="8.40" y="345.80" font-size="7.0" fill="#333" text-anchor="start" font-weight="normal" textLength="42.60" lengthAdjust="spacingAndGlyphs" stroke="#333" stroke-width="0.12" >RSI (14, close)</text>
<text x="8.40" y="415.60" font-size="7.0" fill="#333" text-anchor="start" font-weight="normal" textLength="71.40" lengthAdjust="spacingAndGlyphs" stroke="#333" stroke-width="0.12" >MACD (12, 26, close, 9)</text>
<text x="3.6" y="9.5" font-size="7.1" fill="#222" stroke="#222" stroke-width="0.1" font-weight="bold" textLength="41.7" lengthAdjust="spacingAndGlyphs">aayushjindal</text>
<text x="46.6" y="9.5" font-size="7.1" fill="#222" stroke="#222" stroke-width="0.15" textLength="200.2" lengthAdjust="spacingAndGlyphs">published on TradingView.com, December 03, 2020 05:38:43 UTC</text>
<text x="3.4" y="18.5" font-size="7.1" fill="#222" font-weight="bold" textLength="77.9" lengthAdjust="spacingAndGlyphs">COINBASE:LINKUSD, 240</text>
<text x="85" y="18.5" font-size="7.1" fill="#222" stroke="#222" stroke-width="0.15" textLength="27.2" lengthAdjust="spacingAndGlyphs">13.90181</text>
<path d="M115.3 13.9 L119.9 13.9 L117.6 18.3 Z" fill="#e03c3c"/>
<text x="122.9" y="18.5" font-size="7.1" fill="#222" stroke="#222" stroke-width="0.15" textLength="56.4" lengthAdjust="spacingAndGlyphs">−0.08475 (−0.61%)</text>
<text x="183.5" y="18.5" font-size="7.1" fill="#222" font-weight="bold">O:</text>
<text x="191" y="18.5" font-size="7.1" fill="#e07070" textLength="28" lengthAdjust="spacingAndGlyphs">13.89167</text>
<text x="221.8" y="18.5" font-size="7.1" fill="#222" font-weight="bold">H:</text>
<text x="229.6" y="18.5" font-size="7.1" fill="#e07070" textLength="28.6" lengthAdjust="spacingAndGlyphs">14.06830</text>
<text x="260.8" y="18.5" font-size="7.1" fill="#222" font-weight="bold">L:</text>
<text x="266.8" y="18.5" font-size="7.1" fill="#e07070" textLength="28.6" lengthAdjust="spacingAndGlyphs">13.81105</text>
<text x="298" y="18.5" font-size="7.1" fill="#222" font-weight="bold">C:</text>
<text x="304.6" y="18.5" font-size="7.1" fill="#e07070" textLength="28.2" lengthAdjust="spacingAndGlyphs">13.90181</text>
<path d="M3.4 467.8 L17.4 467.8 C18.0 466.5 17.6 463.0 15.2 461.9 C14.0 461.4 12.8 461.8 12.1 462.6 C11.2 460.6 9.8 459.8 8.4 460.0 C6.8 460.2 5.8 461.4 5.0 462.8 L3.6 465.4 C3.2 466.2 3.0 467.2 3.4 467.8 Z" fill="#2b8de0"/>
<polyline points="4.6,467.2 8.5,462.9 11.8,466.1 15.3,462.8" fill="none" stroke="#ffffff" stroke-width="1.25" stroke-opacity="0.85"/>
<text x="19.1" y="465.8" font-size="7.0" fill="#1a1a1a" stroke="#1a1a1a" stroke-width="0.2" textLength="37.6" lengthAdjust="spacingAndGlyphs">TradingView</text>
</svg>
</body></html>
